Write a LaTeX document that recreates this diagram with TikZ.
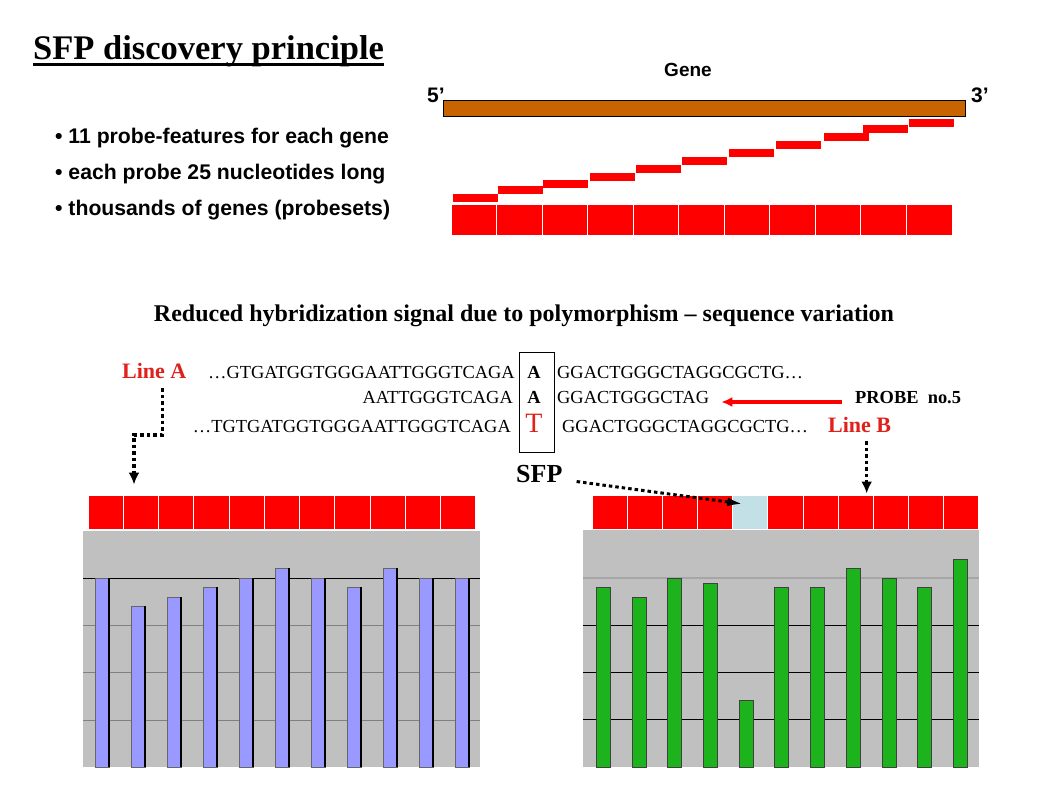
\documentclass[tikz,border=0pt]{standalone}
\usepackage{fontspec}
\setmainfont{Liberation Serif}
\setsansfont{Liberation Sans}
\usetikzlibrary{arrows.meta,positioning}
\definecolor{rouge}{HTML}{FF0000}
\definecolor{rougetexte}{HTML}{E0201B}
\definecolor{brun}{HTML}{C86400}
\definecolor{bleuclair}{HTML}{C2E0E5}
\definecolor{gris}{HTML}{C0C0C0}
\definecolor{violet}{HTML}{9999FF}
\definecolor{vert}{HTML}{1DB31D}
\begin{document}
\begin{tikzpicture}[x=1pt,y=-1pt]
	\tikzstyle{case}=[rectangle,fill=rouge,draw=white,line width=1pt,inner sep=0pt,minimum height=34pt]
	\tikzstyle{sonde}=[fill=rouge]
	\tikzstyle{puce}=[anchor=base west,inner sep=0pt,font=\fontsize{21.2}{24}\selectfont\sffamily\bfseries]
	\tikzstyle{sequence}=[inner sep=0pt,font=\fontsize{18.4}{22}\selectfont]
	\tikzstyle{lignetexte}=[anchor=base west,inner sep=0pt,text=rougetexte,font=\fontsize{22}{26}\selectfont\bfseries]
	\tikzstyle{pointille}=[-{Latex[length=12pt,width=11pt]},line width=3.5pt,dash pattern=on 3.5pt off 3pt]
	\tikzstyle{fleche}=[-{Latex[length=11pt,width=10pt]},line width=3.8pt,draw=rouge]
	\tikzstyle{barreA}=[fill=violet,draw=black!60,line width=.8pt]
	\tikzstyle{barreB}=[fill=vert,draw=black!75,line width=.8pt]
	\def\Base{767}
	\def\LargeurA{35.27}
	\def\LargeurB{35.18}
	\def\LargeurC{45.55}
	\useasboundingbox (0,0) rectangle (1058,794);
	% titre et liste
	\node[anchor=base west,inner sep=0pt,font=\fontsize{34.5}{40}\selectfont\bfseries] (titre) at (33,60) {SFP discovery principle};
	\draw[line width=2.5pt] ([yshift=-4.5pt]titre.base west) -- ([yshift=-4.5pt]titre.base east);
	\node[puce] (puceA) at (55,144) {• 11 probe-features for each gene};
	\node[puce] (puceB) at (55,180) {• each probe 25 nucleotides long};
	\node[puce] (puceC) at (55,216) {• thousands of genes (probesets)};
	% gene et sondes
	\node[anchor=base,inner sep=0pt,font=\fontsize{19}{22}\selectfont\sffamily\bfseries] (gene) at (688,77) {Gene};
	\node[anchor=base west,inner sep=0pt,font=\fontsize{21}{24}\selectfont\sffamily\bfseries] (cinq) at (427,103) {5’};
	\node[anchor=base west,inner sep=0pt,font=\fontsize{21}{24}\selectfont\sffamily\bfseries] (trois) at (971,103) {3’};
	\node[draw,fill=brun,line width=1pt,inner sep=0pt,minimum width=522pt,minimum height=16pt] (barre) at (704,109) {};
	\foreach \x/\y in {453/194,498/186,543/180,590/173,636/165,682/157,729/149,776/141,824/133,863/125,909/119}
		\fill[sonde] (\x,\y) rectangle ++(45,8);
	\foreach \i in {1,...,11}
		\node[case,minimum width=\LargeurC pt,minimum height=31pt] (haut\i) at ({451+\LargeurC*(\i-0.5)},220.5) {};
	% sequences
	\node[anchor=base,inner sep=0pt,font=\fontsize{24}{28}\selectfont\bfseries] (soustitre) at (524,322) {Reduced hybridization signal due to polymorphism – sequence variation};
	\node[lignetexte] (lineA) at (122,379) {Line A};
	\node[sequence,anchor=base east] (seqAg) at (515,379) {…GTGATGGTGGGAATTGGGTCAGA};
	\node[sequence,anchor=base,font=\fontsize{18.4}{22}\selectfont\bfseries] (baseA) at (534,379) {A};
	\node[sequence,anchor=base west] (seqAd) at (557,379) {GGACTGGGCTAGGCGCTG…};
	\node[sequence,anchor=base east] (seqSg) at (513,403) {AATTGGGTCAGA};
	\node[sequence,anchor=base,font=\fontsize{18.4}{22}\selectfont\bfseries] (baseS) at (534,403) {A};
	\node[sequence,anchor=base west] (seqSd) at (557,403) {GGACTGGGCTAG};
	\node[anchor=base west,inner sep=0pt,font=\fontsize{18.4}{22}\selectfont\bfseries] (probe) at (855,403) {PROBE\ \ no.5};
	\node[sequence,anchor=base east] (seqBg) at (511,432) {…TGTGATGGTGGGAATTGGGTCAGA};
	\node[sequence,anchor=base,text=rougetexte,font=\fontsize{28}{30}\selectfont] (baseB) at (534,432) {T};
	\node[sequence,anchor=base west] (seqBd) at (562,432) {GGACTGGGCTAGGCGCTG…};
	\node[lignetexte] (lineB) at (828,432) {Line B};
	\draw[line width=1pt] (519,353) rectangle (554,452);
	\draw[fleche] ([xshift=-13pt,yshift=1pt]probe.base west) -- ([xshift=12pt,yshift=1pt]seqSd.base east);
	\node[anchor=base west,inner sep=0pt,font=\fontsize{26}{30}\selectfont\bfseries] (sfp) at (516,482) {SFP};
	% cases des deux lignes
	\foreach \i in {1,...,11}
		\node[case,minimum width=\LargeurA pt] (gauche\i) at ({88+\LargeurA*(\i-0.5)},512) {};
	\foreach \i/\c in {1/rouge,2/rouge,3/rouge,4/rouge,5/bleuclair,6/rouge,7/rouge,8/rouge,9/rouge,10/rouge,11/rouge}
		\node[case,fill=\c,minimum width=\LargeurB pt] (droite\i) at ({592+\LargeurB*(\i-0.5)},512) {};
	\coordinate (coudeA) at (134,435);
	\draw[pointille] ([xshift=8pt,yshift=-9pt]lineA.south) |- (coudeA) -- ([yshift=10pt]coudeA |- gauche2.north);
	\draw[pointille] ([xshift=7pt,yshift=-9pt]lineB.south) -- ([xshift=7pt,yshift=1pt]lineB.south |- droite9.north);
	\draw[pointille,line width=3pt,-{Latex[length=16pt,width=9pt]}] ([xshift=14pt,yshift=-8pt]sfp.east) -- ([xshift=11pt,yshift=8pt]droite5.west);
	% histogramme ligne A
	\fill[gris] (83,531) rectangle (480,\Base);
	\draw[black,line width=1pt] (83,578) -- (480,578);
	\foreach \y in {625,672,720}
		\draw[black!50,line width=1pt] (83,\y) -- (480,\y);
	\foreach \x/\h in {95/578,131/606,167/597,203/587,239/578,275/568,311/578,347/587,383/568,419/578,455/578}{
		\draw[barreA] (\x,\h) rectangle ({\x+14},\Base);
		\draw[black,line width=1.2pt] ({\x+14},\h) -- ({\x+14},\Base);
	}
	% histogramme ligne B
	\fill[gris] (583,530) rectangle (979,\Base);
	\draw[black!35,line width=1.5pt] (583,578) -- (979,578);
	\foreach \y in {625,672,719}
		\draw[black,line width=1pt] (583,\y) -- (979,\y);
	\foreach \x/\h in {596/587,632/597,667/578,703/583,739/700,774/587,810/587,846/568,882/578,917/587,953/559}
		\draw[barreB] (\x,\h) rectangle ({\x+14.5},\Base);
\end{tikzpicture}
\end{document}
